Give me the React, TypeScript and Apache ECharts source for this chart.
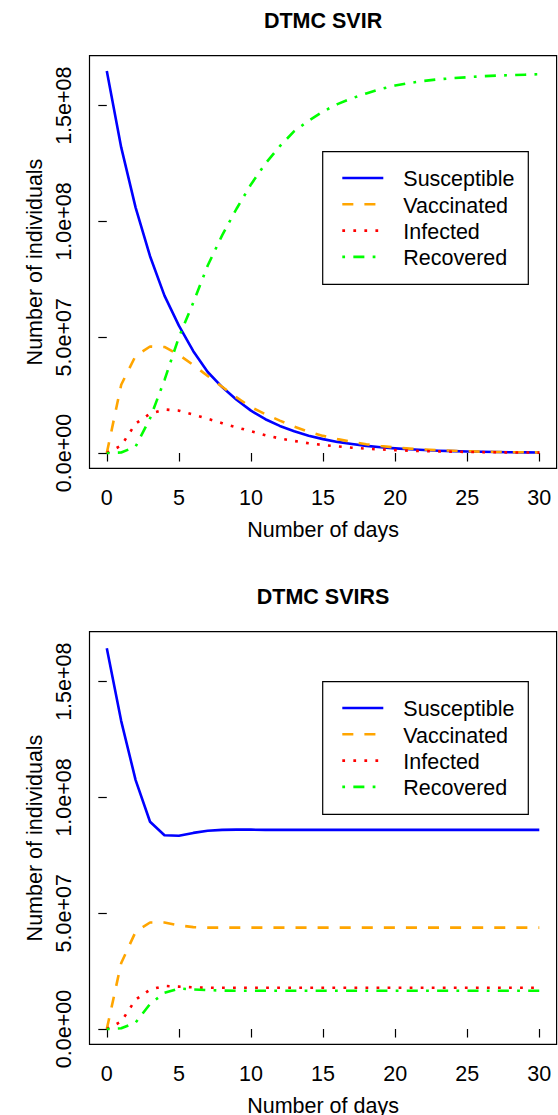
import { useEffect, useRef } from "react";
import * as echarts from "echarts";

// ---------- data (values in millions of individuals) ----------
const days = [0, 1, 2, 3, 4, 5, 6, 7, 8, 9, 10, 11, 12, 13, 14, 15, 16, 17, 18, 19, 20, 21, 22, 23, 24, 25, 26, 27, 28, 29, 30];

const svirSusceptible = [165, 132, 106, 85, 68, 55, 44, 35, 28.5, 23, 18.3, 14.6, 11.7, 9.4, 7.5, 6.0, 4.8, 3.9, 3.1, 2.5, 2.0, 1.6, 1.3, 1.0, 0.8, 0.65, 0.52, 0.42, 0.33, 0.27, 0.21];
const svirVaccinated = [0, 29.5, 42, 46, 45.8, 42.4, 38, 33.3, 28.6, 24, 19.8, 16.8, 14, 11.4, 9.2, 7.4, 6.0, 4.8, 3.8, 3.0, 2.4, 1.9, 1.5, 1.2, 0.95, 0.75, 0.6, 0.47, 0.37, 0.3, 0.24];
const svirInfected = [0, 3.2, 12.7, 17.0, 18.8, 18.3, 16.6, 14.8, 12.9, 11.1, 9.4, 7.7, 6.3, 5.2, 4.2, 3.45, 2.85, 2.3, 1.9, 1.55, 1.25, 1.0, 0.85, 0.7, 0.57, 0.47, 0.38, 0.31, 0.26, 0.21, 0.17];
const svirRecovered = [0, 0.2, 2.8, 15, 31.5, 50, 65, 81, 94, 105.5, 116, 125, 132.5, 139, 143.5, 147.5, 150.7, 153.2, 155.3, 157.2, 158.7, 159.8, 160.7, 161.4, 161.9, 162.3, 162.7, 163.0, 163.2, 163.4, 163.6];

const svirsSusceptible = [164.5, 133, 107.5, 89.5, 83.7, 83.5, 84.7, 85.6, 86.0, 86.1, 86.1, 86.0, 86.0, 86.0, 86.0, 86.0, 86.0, 86.0, 86.0, 86.0, 86.0, 86.0, 86.0, 86.0, 86.0, 86.0, 86.0, 86.0, 86.0, 86.0, 86.0];
const svirsVaccinated = [0, 28.5, 42, 46, 46, 44.8, 44.0, 43.8, 43.8, 43.8, 43.8, 43.8, 43.8, 43.8, 43.8, 43.8, 43.8, 43.8, 43.8, 43.8, 43.8, 43.8, 43.8, 43.8, 43.8, 43.8, 43.8, 43.8, 43.8, 43.8, 43.8];
const svirsInfected = [0, 3.2, 12.7, 17.0, 18.6, 18.3, 18.0, 17.8, 17.8, 17.8, 17.8, 17.8, 17.8, 17.8, 17.8, 17.8, 17.8, 17.8, 17.8, 17.8, 17.8, 17.8, 17.8, 17.8, 17.8, 17.8, 17.8, 17.8, 17.8, 17.8, 17.8];
const svirsRecovered = [0, 0.3, 2.8, 10.8, 15.6, 17.5, 17.1, 16.8, 16.6, 16.5, 16.5, 16.5, 16.5, 16.5, 16.5, 16.5, 16.5, 16.5, 16.5, 16.5, 16.5, 16.5, 16.5, 16.5, 16.5, 16.5, 16.5, 16.5, 16.5, 16.5, 16.5];

const xTicks = [0, 5, 10, 15, 20, 25, 30];
const yTicks = [0, 5e7, 1e8, 1.5e8];
const seriesNames = ["Susceptible", "Vaccinated", "Infected", "Recovered"];
const panelTitles = ["DTMC SVIR", "DTMC SVIRS"];
const xAxisTitle = "Number of days";
const yAxisTitle = "Number of individuals";

const panelData = [
  [svirSusceptible, svirVaccinated, svirInfected, svirRecovered],
  [svirsSusceptible, svirsVaccinated, svirsInfected, svirsRecovered],
];

// ---------- styling ----------
const FONT = "'Liberation Sans', Arial, Helvetica, sans-serif";
const FS = 21.5;
const COLORS = ["#0000FF", "#FFA500", "#FF0000", "#00FF00"];
const LW = 2.6;
const U = 2.76;
const DASHES: any[] = ["solid", [4 * U, 4 * U], [U, 3 * U], [U, 3 * U, 4 * U, 3 * U]];

const GRID_LEFT = 89.5;
const GRID_W = 467.1;
const GRID_H = 412.6;
const PANEL_TOPS = [55.7, 631.7];
const LEGEND_TOPS = [151.7, 681.7];

function sci(v: number): string {
  if (v === 0) return "0.0e+00";
  const e = Math.floor(Math.log10(Math.abs(v)) + 1e-9);
  const m = v / Math.pow(10, e);
  return `${m.toFixed(1)}e${e < 0 ? "-" : "+"}${String(Math.abs(e)).padStart(2, "0")}`;
}

export default function App() {
  const ref = useRef<HTMLDivElement>(null);

  useEffect(() => {
    if (!ref.current) return;
    const chart = echarts.init(ref.current, undefined, { renderer: "svg" });

    const allMax = Math.max(...panelData.flat(2)) * 1e6;
    const yMin = -0.04 * allMax;
    const yMax = allMax * 1.04;
    const xMin = days[0] - 0.04 * (days[days.length - 1] - days[0]);
    const xMax = days[days.length - 1] + 0.04 * (days[days.length - 1] - days[0]);

    const textStyle = { color: "#000", fontFamily: FONT, fontSize: FS };

    const grids = PANEL_TOPS.map((top) => ({
      left: GRID_LEFT,
      top,
      width: GRID_W,
      height: GRID_H,
      show: true,
      borderColor: "#000",
      borderWidth: 1.2,
      backgroundColor: "transparent",
      containLabel: false,
      outerBoundsMode: "none",
    }));

    const xAxes = PANEL_TOPS.map((_, i) => ({
      type: "value",
      gridIndex: i,
      min: xMin,
      max: xMax,
      splitLine: { show: false },
      axisLine: { show: false },
      axisTick: { show: true, inside: false, length: 8.5, customValues: xTicks, lineStyle: { color: "#000", width: 1.2 } },
      axisLabel: { show: true, customValues: xTicks, margin: 18.5, ...textStyle, formatter: (v: number) => String(v) },
      name: xAxisTitle,
      nameLocation: "middle",
      nameGap: 50.7,
      nameMoveOverlap: false,
      nameTextStyle: textStyle,
    }));

    const yAxes = PANEL_TOPS.map((_, i) => ({
      type: "value",
      gridIndex: i,
      min: yMin,
      max: yMax,
      splitLine: { show: false },
      axisLine: { show: false },
      axisTick: { show: true, inside: false, length: 8.5, customValues: yTicks, lineStyle: { color: "#000", width: 1.2 } },
      axisLabel: { show: true, customValues: yTicks, rotate: 90, margin: 14.5, ...textStyle, formatter: sci },
      name: yAxisTitle,
      nameLocation: "middle",
      nameGap: 43.5,
      nameRotate: 90,
      nameMoveOverlap: false,
      nameTextStyle: textStyle,
    }));

    const series: any[] = [];
    panelData.forEach((sets, p) => {
      sets.forEach((vals, k) => {
        series.push({
          type: "line",
          name: seriesNames[k],
          xAxisIndex: p,
          yAxisIndex: p,
          data: days.map((d, j) => [d, vals[j] * 1e6]),
          showSymbol: false,
          symbol: "none",
          silent: true,
          z: 2 + k,
          lineStyle: { color: COLORS[k], width: LW, type: DASHES[k], cap: "butt", join: "round" },
          emphasis: { disabled: true },
        });
      });
    });

    const graphic: any[] = [];
    PANEL_TOPS.forEach((top, p) => {
      graphic.push({
        type: "text",
        x: GRID_LEFT + GRID_W / 2,
        y: top - 34.7,
        style: { text: panelTitles[p], fill: "#000", font: `bold ${FS}px ${FONT}`, align: "center", verticalAlign: "middle" },
        silent: true,
      });
      const ly = LEGEND_TOPS[p];
      graphic.push({
        type: "rect",
        shape: { x: 322.7, y: ly, width: 205.6, height: 132.6 },
        style: { fill: "#fff", stroke: "#000", lineWidth: 1.2 },
        silent: true,
        z: 10,
      });
      seriesNames.forEach((nm, k) => {
        const ry = ly + 27.6 + k * 26.3;
        graphic.push({
          type: "line",
          shape: { x1: 342.3, y1: ry - 1.3, x2: 383.3, y2: ry - 1.3 },
          style: { stroke: COLORS[k], lineWidth: LW, lineDash: k === 0 ? null : DASHES[k], lineCap: "butt" },
          silent: true,
          z: 11,
        });
        graphic.push({
          type: "text",
          x: 403.3,
          y: ry,
          style: { text: nm, fill: "#000", font: `${FS}px ${FONT}`, align: "left", verticalAlign: "middle" },
          silent: true,
          z: 11,
        });
      });
    });

    chart.setOption({
      animation: false,
      backgroundColor: "#fff",
      textStyle: { fontFamily: FONT },
      grid: grids,
      xAxis: xAxes,
      yAxis: yAxes,
      series,
      graphic,
    });

    return () => chart.dispose();
  }, []);

  return <div ref={ref} style={{ position: "absolute", left: 0, top: 0, width: 558, height: 1115 }} />;
}
